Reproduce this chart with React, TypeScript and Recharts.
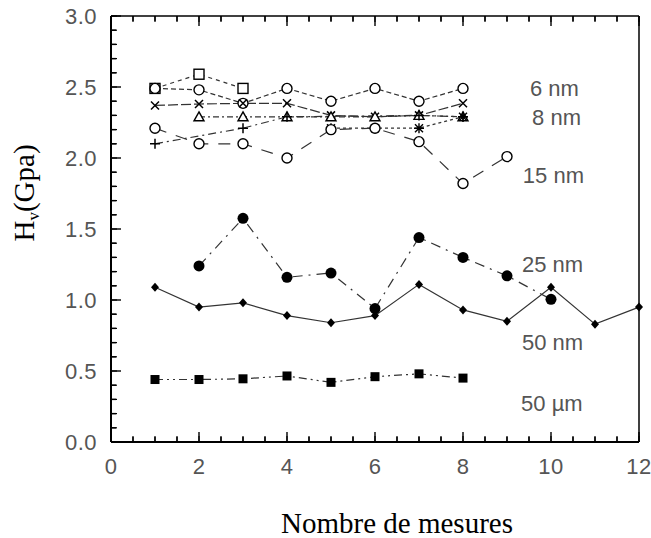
import React from "react";
import { Label, Line, LineChart, ReferenceDot, XAxis, YAxis } from "recharts";

// Measurement index (x axis)
const MEASURES = [1, 2, 3, 4, 5, 6, 7, 8, 9, 10, 11, 12];

// Hardness values (GPa)
const HV_6NM_CIRCLE = [2.49, 2.48, 2.385, 2.49, 2.4, 2.49, 2.4, 2.49];
const HV_6NM_SQUARE = [2.49, 2.59, 2.49];
const HV_8NM_CROSS = [2.37, 2.38, 2.385, 2.385, 2.3, 2.29, 2.3, 2.385];
const HV_8NM_TRIANGLE = [null, 2.29, 2.29, 2.29, 2.29, 2.29, 2.3, 2.29];
const HV_8NM_PLUS = [2.1, null, 2.21, 2.29, null, null, 2.3, 2.29];
const HV_8NM_STAR = [null, null, null, null, 2.21, 2.21, 2.21, 2.29];
const HV_15NM = [2.21, 2.1, 2.1, 2.0, 2.2, 2.21, 2.115, 1.82, 2.01];
const HV_25NM = [null, 1.24, 1.575, 1.16, 1.19, 0.94, 1.44, 1.3, 1.17, 1.005];
const HV_50NM = [1.09, 0.95, 0.98, 0.89, 0.84, 0.89, 1.11, 0.93, 0.85, 1.09, 0.83, 0.95];
const HV_50UM = [0.44, 0.44, 0.445, 0.465, 0.42, 0.46, 0.48, 0.45];

// Series annotations (text, anchor x, anchor y in data units)
const SERIES_LABELS = ["6 nm", "8 nm", "15 nm", "25 nm", "50 nm", "50 \u00b5m"];
const SERIES_LABEL_X = [9.52, 9.57, 9.36, 9.34, 9.34, 9.32];
const SERIES_LABEL_Y = [2.49, 2.29, 1.88, 1.25, 0.7, 0.27];

// Axis ticks: majors carry labels, minors are short inward marks
const X_TICKS = Array.from({ length: 25 }, (_, i) => i * 0.5);
const Y_TICKS = Array.from({ length: 31 }, (_, i) => i / 10);

const INK = "#000";
const LINE = "#333";
const TEXT = "#555";
const SANS = "'Liberation Sans', Arial, Helvetica, sans-serif";
const SERIF = "'Liberation Serif', 'Times New Roman', serif";
// native inward tick length (negative tickSize points into the plot)
const TICK = 6;

const data = MEASURES.map((x, i) => ({
	x,
	s6c: HV_6NM_CIRCLE[i] ?? null,
	s6s: HV_6NM_SQUARE[i] ?? null,
	s8x: HV_8NM_CROSS[i] ?? null,
	s8t: HV_8NM_TRIANGLE[i] ?? null,
	s8p: HV_8NM_PLUS[i] ?? null,
	s8a: HV_8NM_STAR[i] ?? null,
	s15: HV_15NM[i] ?? null,
	s25: HV_25NM[i] ?? null,
	s50: HV_50NM[i] ?? null,
	s50u: HV_50UM[i] ?? null,
}));

const isMultiple = (v: number, step: number) =>
	Math.abs(v / step - Math.round(v / step)) < 1e-6;

const hasPoint = (p: any) =>
	p && p.cx != null && p.cy != null && p.value != null && !Number.isNaN(p.cy);

// marker shapes
const openCircle = (p: any) =>
	hasPoint(p) ? (
		<circle key={p.index} cx={p.cx} cy={p.cy} r={5} fill="#fff" stroke={INK} strokeWidth={1.4} />
	) : (
		<g key={p.index} />
	);

const openSquare = (p: any) =>
	hasPoint(p) ? (
		<rect key={p.index} x={p.cx - 5} y={p.cy - 5} width={10} height={10} fill="#fff" stroke={INK} strokeWidth={1.4} />
	) : (
		<g key={p.index} />
	);

const cross = (p: any) =>
	hasPoint(p) ? (
		<path key={p.index} d={`M${p.cx - 4},${p.cy - 4}L${p.cx + 4},${p.cy + 4}M${p.cx - 4},${p.cy + 4}L${p.cx + 4},${p.cy - 4}`} stroke={INK} strokeWidth={1.5} />
	) : (
		<g key={p.index} />
	);

const plus = (p: any) =>
	hasPoint(p) ? (
		<path key={p.index} d={`M${p.cx - 5},${p.cy}L${p.cx + 5},${p.cy}M${p.cx},${p.cy - 5}L${p.cx},${p.cy + 5}`} stroke={INK} strokeWidth={1.5} />
	) : (
		<g key={p.index} />
	);

const openTriangle = (p: any) =>
	hasPoint(p) ? (
		<path key={p.index} d={`M${p.cx},${p.cy - 5}L${p.cx + 5},${p.cy + 4}L${p.cx - 5},${p.cy + 4}Z`} fill="#fff" stroke={INK} strokeWidth={1.4} />
	) : (
		<g key={p.index} />
	);

const asterisk = (p: any) =>
	hasPoint(p) ? (
		<path
			key={p.index}
			d={`M${p.cx - 5},${p.cy}L${p.cx + 5},${p.cy}M${p.cx},${p.cy - 5}L${p.cx},${p.cy + 5}M${p.cx - 4},${p.cy - 4}L${p.cx + 4},${p.cy + 4}M${p.cx - 4},${p.cy + 4}L${p.cx + 4},${p.cy - 4}`}
			stroke={INK}
			strokeWidth={1.4}
		/>
	) : (
		<g key={p.index} />
	);

const filledCircle = (p: any) =>
	hasPoint(p) ? <circle key={p.index} cx={p.cx} cy={p.cy} r={5.5} fill={INK} /> : <g key={p.index} />;

const filledSquare = (p: any) =>
	hasPoint(p) ? (
		<rect key={p.index} x={p.cx - 4.5} y={p.cy - 4.5} width={9} height={9} fill={INK} />
	) : (
		<g key={p.index} />
	);

const filledDiamond = (p: any) =>
	hasPoint(p) ? (
		<path key={p.index} d={`M${p.cx},${p.cy - 4.5}L${p.cx + 4},${p.cy}L${p.cx},${p.cy + 4.5}L${p.cx - 4},${p.cy}Z`} fill={INK} />
	) : (
		<g key={p.index} />
	);

// tick renderers: props x/y sit at the inner end of the native tick line
const makeXTick = (side: "bottom" | "top") => (props: any) => {
	const { x, y, payload } = props;
	const v = Number(payload.value);
	const major = isMultiple(v, 2);
	const axisY = side === "bottom" ? y + TICK : y - TICK;
	const len = major ? 10 : 5;
	const y2 = side === "bottom" ? axisY - len : axisY + len;
	return (
		<g>
			<path d={`M${x},${axisY}L${x},${y2}`} stroke={INK} strokeWidth={1.4} fill="none" />
			{side === "bottom" && major && (
				<text x={x} y={axisY + 24} textAnchor="middle" dominantBaseline="central" fill={TEXT} fontSize={22} fontFamily={SANS} letterSpacing={0.5}>
					{v}
				</text>
			)}
		</g>
	);
};

const makeYTick = (side: "left" | "right") => (props: any) => {
	const { x, y, payload } = props;
	const v = Number(payload.value);
	const major = isMultiple(v, 0.5);
	const axisX = side === "left" ? x - TICK : x + TICK;
	const len = major ? 10 : 5;
	const x2 = side === "left" ? axisX + len : axisX - len;
	return (
		<g>
			<path d={`M${axisX},${y}L${x2},${y}`} stroke={INK} strokeWidth={1.4} fill="none" />
			{side === "left" && major && (
				<text x={axisX - 14} y={y} textAnchor="end" dominantBaseline="central" fill={TEXT} fontSize={22} fontFamily={SANS} letterSpacing={0.5}>
					{v.toFixed(1)}
				</text>
			)}
		</g>
	);
};

const XTitle = (props: any) => {
	const vb = props.viewBox;
	return (
		<text x={vb.x + vb.width / 2 + 22} y={vb.y + 91} textAnchor="middle" fill="#000" fontSize={29} fontFamily={SERIF}>
			Nombre de mesures
		</text>
	);
};

const YTitle = (props: any) => {
	const vb = props.viewBox;
	const cx = vb.x + 34;
	const cy = vb.y + 177;
	return (
		<text x={cx} y={cy} transform={`rotate(-90, ${cx}, ${cy})`} textAnchor="middle" fill="#000" fontSize={29} fontFamily={SERIF}>
			H
			<tspan fontSize={17} dy={5}>
				v
			</tspan>
			<tspan dy={-5}>(Gpa)</tspan>
		</text>
	);
};

const tickLineStyle = { stroke: INK, strokeWidth: 1.2 };

export default function App(): React.ReactElement {
	return (
		<div style={{ position: "absolute", left: 0, top: 0, width: 651, height: 538, background: "#fff" }}>
			<LineChart width={651} height={538} data={data} margin={{ top: 15, right: 0, left: 0, bottom: 0 }}>
				<XAxis
					dataKey="x"
					type="number"
					domain={[0, 12]}
					ticks={X_TICKS}
					interval={0}
					height={96}
					tickSize={-TICK}
					tickMargin={0}
					tickLine={tickLineStyle}
					axisLine={{ stroke: INK, strokeWidth: 2 }}
					tick={makeXTick("bottom")}
				>
					<Label content={XTitle} />
				</XAxis>
				<XAxis
					xAxisId="top"
					orientation="top"
					dataKey="x"
					type="number"
					domain={[0, 12]}
					ticks={X_TICKS}
					interval={0}
					height={1}
					tickSize={-TICK}
					tickMargin={0}
					tickLine={tickLineStyle}
					axisLine={{ stroke: INK, strokeWidth: 1.5 }}
					tick={makeXTick("top")}
				/>
				<YAxis
					type="number"
					domain={[0, 3]}
					ticks={Y_TICKS}
					interval={0}
					width={111}
					tickSize={-TICK}
					tickMargin={0}
					tickLine={tickLineStyle}
					axisLine={{ stroke: INK, strokeWidth: 2 }}
					tick={makeYTick("left")}
				>
					<Label content={YTitle} />
				</YAxis>
				<YAxis
					yAxisId="right"
					orientation="right"
					type="number"
					domain={[0, 3]}
					ticks={Y_TICKS}
					interval={0}
					width={12}
					tickSize={-TICK}
					tickMargin={0}
					tickLine={tickLineStyle}
					axisLine={{ stroke: INK, strokeWidth: 1.5 }}
					tick={makeYTick("right")}
				/>

				<Line dataKey="s6s" stroke={LINE} strokeWidth={1.2} strokeDasharray="4 4" dot={openSquare} isAnimationActive={false} />
				<Line dataKey="s6c" stroke={LINE} strokeWidth={1.2} strokeDasharray="5 3" dot={openCircle} isAnimationActive={false} />
				<Line dataKey="s8x" stroke={LINE} strokeWidth={1.2} strokeDasharray="10 3" dot={cross} isAnimationActive={false} />
				<Line dataKey="s8t" stroke={LINE} strokeWidth={1.2} strokeDasharray="6 3 2 3" dot={openTriangle} connectNulls isAnimationActive={false} />
				<Line dataKey="s8p" stroke={LINE} strokeWidth={1.2} strokeDasharray="8 4 2 4" dot={plus} connectNulls isAnimationActive={false} />
				<Line dataKey="s8a" stroke={LINE} strokeWidth={1.2} strokeDasharray="3 3" dot={asterisk} connectNulls isAnimationActive={false} />
				<Line dataKey="s15" stroke={LINE} strokeWidth={1.2} strokeDasharray="12 10" dot={openCircle} isAnimationActive={false} />
				<Line dataKey="s25" stroke={LINE} strokeWidth={1.2} strokeDasharray="10 6 2 6" dot={filledCircle} connectNulls isAnimationActive={false} />
				<Line dataKey="s50" stroke={LINE} strokeWidth={1.2} dot={filledDiamond} isAnimationActive={false} />
				<Line dataKey="s50u" stroke={LINE} strokeWidth={1.2} strokeDasharray="8 4 2 4 2 4" dot={filledSquare} isAnimationActive={false} />

				{SERIES_LABELS.map((text, i) => (
					<ReferenceDot
						key={text}
						x={SERIES_LABEL_X[i]}
						y={SERIES_LABEL_Y[i]}
						r={0}
						stroke="none"
						fill="none"
						ifOverflow="visible"
						label={{ value: text, position: "right", offset: 0, fill: TEXT, fontSize: 22, fontFamily: SANS }}
					/>
				))}
			</LineChart>
		</div>
	);
}
